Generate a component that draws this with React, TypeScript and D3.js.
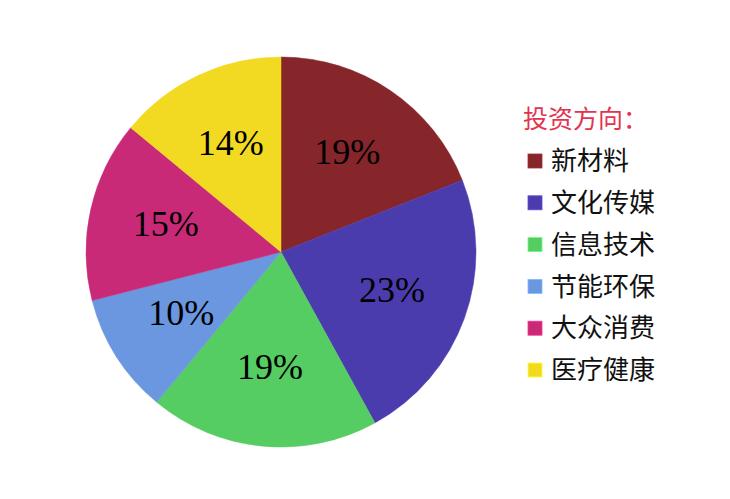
import React, { useEffect, useRef } from 'react';
import * as d3 from 'd3';

// investment directions and their shares (%)
const categories = ['新材料', '文化传媒', '信息技术', '节能环保', '大众消费', '医疗健康'];
const shares = [19, 23, 19, 10, 15, 14];
const colors = ['#86252a', '#4b3cae', '#55cd63', '#6a97e0', '#c92a78', '#f2da22'];
const legendTitle = '投资方向：';

export default function App() {
  const svgRef = useRef<SVGSVGElement | null>(null);

  const width = 730;
  const height = 499;
  const cx = 281;
  const cy = 252;
  const radius = 195;

  useEffect(() => {
    const svg = d3.select(svgRef.current);
    svg.selectAll('*').remove();

    const data = categories.map((c, i) => ({ name: c, value: shares[i], color: colors[i] }));

    const pie = d3
      .pie<{ name: string; value: number; color: string }>()
      .value((d) => d.value)
      .sort(null);

    const arc = d3
      .arc<d3.PieArcDatum<{ name: string; value: number; color: string }>>()
      .innerRadius(0)
      .outerRadius(radius);

    const labelArc = d3
      .arc<d3.PieArcDatum<{ name: string; value: number; color: string }>>()
      .innerRadius(118)
      .outerRadius(118);

    const g = svg.append('g').attr('transform', `translate(${cx}, ${cy})`);
    const arcs = pie(data);

    g.selectAll('path')
      .data(arcs)
      .join('path')
      .attr('d', arc)
      .style('fill', (d) => d.data.color)
      .style('stroke', (d) => d.data.color)
      .style('stroke-width', 0.5);

    g.selectAll('text')
      .data(arcs)
      .join('text')
      .attr('transform', (d) => `translate(${labelArc.centroid(d)})`)
      .attr('text-anchor', 'middle')
      .attr('dy', '0.27em')
      .style('font-family', '"Liberation Serif", serif')
      .style('font-size', '36px')
      .style('fill', '#000')
      .text((d) => `${d.data.value}%`);

    // legend
    const legend = svg.append('g').attr('transform', 'translate(523, 0)');
    legend
      .append('text')
      .attr('x', 0)
      .attr('y', 119)
      .attr('dy', '0.35em')
      .style('font-family', '"Noto Sans CJK SC", sans-serif')
      .style('font-size', '25px')
      .style('fill', '#e3344f')
      .text(legendTitle);

    const yLegend = d3
      .scalePoint<string>()
      .domain(categories)
      .range([161, 370]);

    const items = legend
      .selectAll('.item')
      .data(data)
      .join('g')
      .attr('class', 'item')
      .attr('transform', (d) => `translate(0, ${yLegend(d.name)})`);

    items
      .append('rect')
      .attr('x', 5)
      .attr('y', -7)
      .attr('width', 14)
      .attr('height', 14)
      .style('fill', (d) => d.color)
      .style('stroke', (d) => d3.color(d.color)!.brighter(0.6).toString())
      .style('stroke-width', 0.8);

    items
      .append('text')
      .attr('x', 28)
      .attr('y', 0)
      .attr('dy', '0.35em')
      .style('font-family', '"Noto Sans CJK SC", sans-serif')
      .style('font-size', '26px')
      .style('fill', '#111')
      .text((d) => d.name);
  });

  return (
    <svg
      ref={svgRef}
      width={width}
      height={height}
      style={{ position: 'absolute', left: 0, top: 0, background: '#fff' }}
    ></svg>
  );
}
